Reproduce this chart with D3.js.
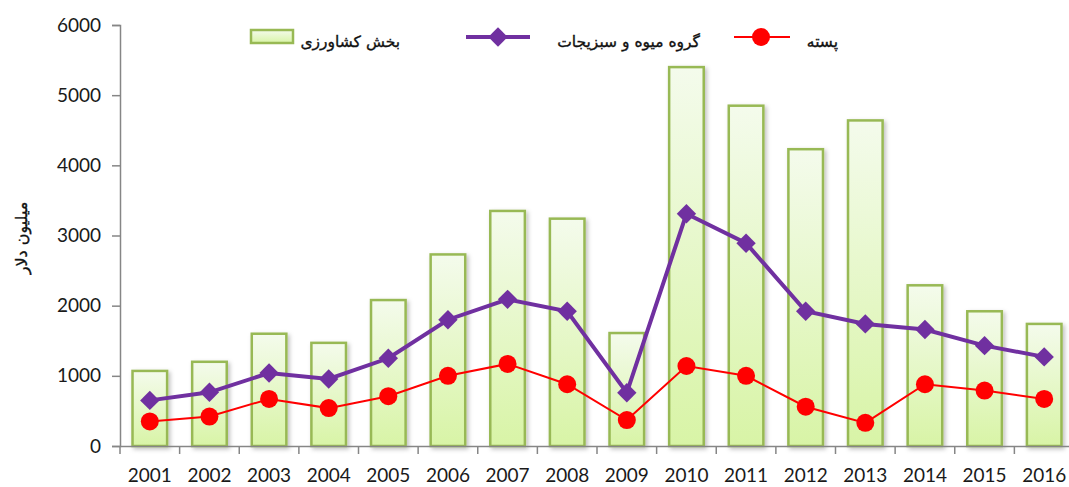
<!DOCTYPE html>
<html>
<head>
<meta charset="utf-8">
<script src="https://cdn.jsdelivr.net/npm/d3@7"></script>
<style>
  body { margin: 0; background: #fff; }
  .tick text { font-family: Lato, "Open Sans", sans-serif; font-size: 19px; fill: #1a1a1a; }
  .fa { font-family: "DejaVu Sans", sans-serif; font-size: 15.5px; fill: #111; stroke: #111; stroke-width: 0.35px; }
</style>
</head>
<body>
<div id="chart"></div>
<script>
var width = 1069, height = 487

// data
var years = ["2001","2002","2003","2004","2005","2006","2007","2008","2009","2010","2011","2012","2013","2014","2015","2016"];
var agri = [1070, 1200, 1600, 1470, 2080, 2730, 3350, 3240, 1610, 5400, 4850, 4230, 4640, 2290, 1920, 1740];
var fruitVeg = [650, 765, 1040, 955, 1250, 1800, 2090, 1920, 760, 3310, 2890, 1920, 1740, 1660, 1430, 1270];
var pistachio = [350, 420, 670, 540, 710, 1000, 1170, 880, 370, 1140, 1000, 560, 330, 880, 790, 670];
var yTicks = [0, 1000, 2000, 3000, 4000, 5000, 6000];
var names = ["بخش کشاورزی", "گروه میوه و سبزیجات", "پسته"];
var yTitle = "میلیون دلار";

var margin = {top: 25, left: 120, bottom: 40}
var plotW = 954

var svg = d3.select("#chart").append("svg")
    .attr("width", width)
    .attr("height", height)

var defs = svg.append("defs")
var grad = defs.append("linearGradient")
    .attr("id", "barGrad")
    .attr("x1", 0).attr("y1", 0).attr("x2", 0).attr("y2", 1)
grad.append("stop").attr("offset", "0%").attr("stop-color", "#f4fbec")
grad.append("stop").attr("offset", "100%").attr("stop-color", "#d8f4a6")

var shadow = defs.append("filter").attr("id", "shadow")
    .attr("x", "-20%").attr("y", "-20%").attr("width", "150%").attr("height", "150%")
shadow.append("feDropShadow")
    .attr("dx", 2).attr("dy", 2).attr("stdDeviation", 2)
    .attr("flood-color", "#000").attr("flood-opacity", 0.25)

var x = d3.scaleBand()
    .domain(years)
    .range([margin.left, margin.left + plotW])
    .paddingInner(0.42)
    .paddingOuter(0.21)

var y = d3.scaleLinear()
    .domain([0, 6000])
    .range([446, margin.top])

// bars
svg.append("g")
    .selectAll("rect")
    .data(agri)
    .enter().append("rect")
    .attr("x", function(d, i) { return x(years[i]) })
    .attr("y", function(d) { return y(d) })
    .attr("width", x.bandwidth())
    .attr("height", function(d) { return y(0) - y(d) })
    .attr("fill", "url(#barGrad)")
    .attr("stroke", "#98b954")
    .attr("stroke-width", 2.5)
    .attr("filter", "url(#shadow)")

// axes
var yAxis = svg.append("g")
    .attr("transform", "translate(" + margin.left + ",0)")
    .call(d3.axisLeft(y).tickValues(yTicks).tickSize(8).tickPadding(11).tickFormat(d3.format("d")))
var xAxis = svg.append("g")
    .attr("transform", "translate(0," + y(0) + ")")
    .call(d3.axisBottom(x).tickSize(0).tickPadding(23))
// tick marks between categories
xAxis.selectAll(".between")
    .data(years)
    .enter().append("line")
    .attr("x1", function(d) { return x(d) - x.step() * 0.21 })
    .attr("x2", function(d) { return x(d) - x.step() * 0.21 })
    .attr("y1", 0).attr("y2", 8)
    .attr("stroke", "#868686").attr("stroke-width", 1.5)
svg.selectAll(".domain").attr("stroke", "#868686").attr("stroke-width", 1.5)
yAxis.selectAll(".tick line").attr("stroke", "#868686").attr("stroke-width", 1.5)

var cx = function(d, i) { return x(years[i]) + x.bandwidth() / 2 }

// fruit & vegetables line
svg.append("path")
    .datum(fruitVeg)
    .attr("fill", "none")
    .attr("stroke", "#7030a0")
    .attr("stroke-width", 4)
    .attr("d", d3.line().x(cx).y(function(d) { return y(d) }))
svg.append("g")
    .selectAll("path")
    .data(fruitVeg)
    .enter().append("path")
    .attr("d", d3.symbol().type(d3.symbolDiamond2).size(240))
    .attr("transform", function(d, i) { return "translate(" + cx(d, i) + "," + y(d) + ")" })
    .attr("fill", "#7030a0")

// pistachio line
svg.append("path")
    .datum(pistachio)
    .attr("fill", "none")
    .attr("stroke", "#ff0000")
    .attr("stroke-width", 2)
    .attr("d", d3.line().x(cx).y(function(d) { return y(d) }))
svg.append("g")
    .selectAll("circle")
    .data(pistachio)
    .enter().append("circle")
    .attr("cx", cx)
    .attr("cy", function(d) { return y(d) })
    .attr("r", 9)
    .attr("fill", "#ff0000")

// y title
svg.append("text")
    .attr("class", "fa")
    .style("font-size", "16px")
    .attr("transform", "translate(27,238) rotate(-90)")
    .attr("text-anchor", "middle")
    .attr("direction", "rtl")
    .text(yTitle)

// legend
var lg = svg.append("g")
lg.append("rect")
    .attr("x", 251).attr("y", 30).attr("width", 42).attr("height", 13)
    .attr("fill", "url(#barGrad)").attr("stroke", "#98b954").attr("stroke-width", 2.5)
lg.append("text").attr("class", "fa")
    .attr("x", 400).attr("y", 47).attr("text-anchor", "start").attr("direction", "rtl")
    .text(names[0])
lg.append("line").attr("x1", 466).attr("x2", 530).attr("y1", 37).attr("y2", 37)
    .attr("stroke", "#7030a0").attr("stroke-width", 4)
lg.append("path").attr("d", d3.symbol().type(d3.symbolDiamond2).size(240))
    .attr("transform", "translate(498,37)").attr("fill", "#7030a0")
lg.append("text").attr("class", "fa")
    .attr("x", 700).attr("y", 47).attr("text-anchor", "start").attr("direction", "rtl")
    .text(names[1])
lg.append("line").attr("x1", 734).attr("x2", 790).attr("y1", 37).attr("y2", 37)
    .attr("stroke", "#ff0000").attr("stroke-width", 2)
lg.append("circle").attr("cx", 761).attr("cy", 37).attr("r", 9).attr("fill", "#ff0000")
lg.append("text").attr("class", "fa")
    .attr("x", 838).attr("y", 47).attr("text-anchor", "start").attr("direction", "rtl")
    .text(names[2])
</script>
</body>
</html>
